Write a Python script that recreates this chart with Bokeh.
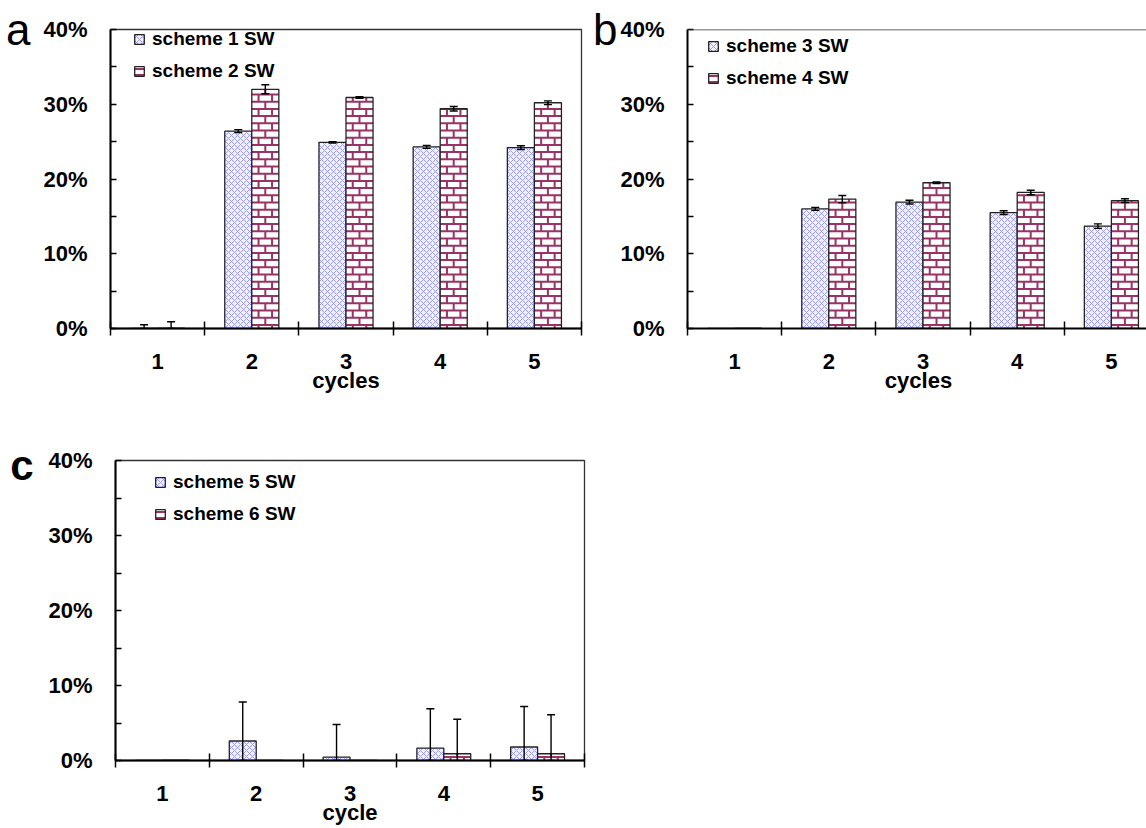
from bokeh.plotting import figure
from bokeh.models import (ColumnDataSource, FixedTicker, NumeralTickFormatter, Whisker, TeeHead,
                          Legend, LegendItem, Range1d, Span, LinearAxis, CustomJSTickFormatter)
from bokeh.layouts import column, row
from bokeh.embed import file_html
from bokeh.resources import INLINE

# ---------------- data ----------------
cycles = [1, 2, 3, 4, 5]
y_ticks = [0.0, 0.1, 0.2, 0.3, 0.4]

a_names = ["scheme 1 SW", "scheme 2 SW"]
a_s1 = [0.0, 0.264, 0.249, 0.243, 0.242]
a_s1_err = [0.005, 0.002, 0.001, 0.002, 0.0025]
a_s2 = [0.0, 0.320, 0.309, 0.294, 0.302]
a_s2_err = [0.009, 0.006, 0.001, 0.003, 0.0025]

b_names = ["scheme 3 SW", "scheme 4 SW"]
b_s3 = [0.0, 0.160, 0.169, 0.155, 0.137]
b_s3_err = [0.0, 0.002, 0.0025, 0.0025, 0.003]
b_s4 = [0.0, 0.173, 0.195, 0.182, 0.171]
b_s4_err = [0.0, 0.005, 0.001, 0.003, 0.0025]

c_names = ["scheme 5 SW", "scheme 6 SW"]
c_s5 = [0.0, 0.026, 0.0045, 0.0165, 0.018]
c_s5_err = [0.0, 0.052, 0.0435, 0.0525, 0.054]
c_s6 = [0.0, 0.0, 0.0, 0.009, 0.009]
c_s6_err = [0.0, 0.0, 0.0, 0.046, 0.052]

# ---------------- style ----------------
FONT = "Liberation Sans"
BAR_W = 0.287
PX_PER_CAT = 471 / 5
PX_PER_UNIT_Y = 299 / 0.4
BRICK_H = 7.2 / PX_PER_UNIT_Y      # brick row height (data units)
BRICK_W = 13.5 / PX_PER_CAT        # brick length (data units)
BRICK_COLOR = "#993366"
EDGE = "#222222"


def brick_lines(xcenters, tops):
    """Mortar lines of a brick fill, clipped to each bar."""
    x0, y0, x1, y1 = [], [], [], []
    eps = 1.5 / PX_PER_CAT
    for xc, top in zip(xcenters, tops):
        if top <= 0:
            continue
        left, right = xc - BAR_W / 2, xc + BAR_W / 2
        bounds = [0.0]
        yv = BRICK_H / 2
        while yv < top:
            bounds.append(yv)
            yv += BRICK_H
        bounds.append(top)
        for r in range(len(bounds) - 1):
            ylo, yhi = bounds[r], bounds[r + 1]
            if 0 < r:
                x0.append(left); x1.append(right); y0.append(ylo); y1.append(ylo)
            off = BRICK_W / 2 if r % 2 == 0 else 0.0
            j = 0
            while left + off + j * BRICK_W < right - eps:
                xv = left + off + j * BRICK_W
                if xv > left + eps:
                    x0.append(xv); x1.append(xv); y0.append(ylo); y1.append(yhi)
                j += 1
    return dict(x0=x0, y0=y0, x1=x1, y1=y1)


def make_panel(vals1, err1, vals2, err2, names, letter, letter_bold, letter_standoff,
               letter_dy_px, xlabel, frame_w, frame_h, x_end, borders, legend_loc,
               outline=True):
    left, right, top, bottom = borders
    p = figure(frame_width=frame_w, frame_height=frame_h, output_backend="svg",
               toolbar_location=None, x_range=Range1d(0.5, x_end), y_range=Range1d(0, 0.4),
               min_border_left=left, min_border_right=right, min_border_top=top,
               min_border_bottom=bottom, background_fill_color="white",
               border_fill_color="white")
    p.xgrid.visible = False
    p.ygrid.visible = False
    if outline:
        p.outline_line_color = "#333333"
        p.outline_line_width = 1.3
    else:
        p.outline_line_color = None
        p.add_layout(Span(location=y_ticks[-1], dimension="width", line_color="#333333",
                          line_width=1.3))

    x1 = [c - BAR_W / 2 for c in cycles]
    x2 = [c + BAR_W / 2 for c in cycles]
    r1 = p.vbar(x=x1, top=vals1, width=BAR_W, fill_color="#f2f2ff", line_color=EDGE,
                line_width=1.3, hatch_pattern="diagonal_cross", hatch_color="#9a9aff",
                hatch_scale=6, hatch_weight=1)
    # brick-filled bars: white body, mortar lines, then the outline on top
    p.vbar(x=x2, top=vals2, width=BAR_W, fill_color="white", line_color=None)
    p.segment(source=ColumnDataSource(brick_lines(x2, vals2)), x0="x0", y0="y0",
              x1="x1", y1="y1", line_color=BRICK_COLOR, line_width=2)
    p.vbar(x=x2, top=vals2, width=BAR_W, fill_color=None, line_color=EDGE, line_width=1.3)
    # legend swatch for the brick series (zero-height bar, hidden under the axis)
    r2 = p.vbar(x=x2[:1], top=[0.0], width=BAR_W, fill_color="white", line_color=EDGE,
                line_width=1.3, hatch_pattern="horizontal_line", hatch_color=BRICK_COLOR,
                hatch_scale=6, hatch_weight=2)

    for xs, vs, es in ((x1, vals1, err1), (x2, vals2, err2)):
        keep = [i for i in range(len(xs)) if es[i] > 0]
        src = ColumnDataSource(dict(
            x=[xs[i] for i in keep],
            upper=[vs[i] + es[i] for i in keep],
            lower=[max(vs[i] - es[i], 0.0) for i in keep]))
        w = Whisker(source=src, base="x", upper="upper", lower="lower", dimension="height",
                    line_color="black", line_width=1.4, level="overlay",
                    upper_head=TeeHead(size=8, line_color="black", line_width=1.4),
                    lower_head=TeeHead(size=8, line_color="black", line_width=1.4))
        p.add_layout(w)

    # axes
    xa = p.xaxis[0]
    xa.ticker = FixedTicker(ticks=cycles,
                            minor_ticks=[c - 0.5 for c in cycles] + [cycles[-1] + 0.5])
    xa.axis_line_width = 2
    xa.axis_line_color = "black"
    xa.major_tick_in = 0
    xa.major_tick_out = 0
    xa.minor_tick_in = 7
    xa.minor_tick_out = 7
    xa.minor_tick_line_width = 1.5
    xa.minor_tick_line_color = "black"
    xa.major_label_standoff = 18
    xa.major_label_text_font = FONT
    xa.major_label_text_font_size = "22px"
    xa.major_label_text_font_style = "bold"
    xa.major_label_text_color = "black"
    xa.axis_label = xlabel
    xa.axis_label_standoff = -4
    xa.axis_label_text_font = FONT
    xa.axis_label_text_font_size = "22px"
    xa.axis_label_text_font_style = "bold"
    xa.axis_label_text_color = "black"

    ya = p.yaxis[0]
    ya.ticker = FixedTicker(ticks=y_ticks,
                            minor_ticks=[(a + b) / 2 for a, b in zip(y_ticks[:-1], y_ticks[1:])])
    ya.formatter = NumeralTickFormatter(format="0%")
    ya.axis_line_width = 2
    ya.axis_line_color = "black"
    ya.major_tick_in = 6
    ya.major_tick_out = 0
    ya.minor_tick_in = 6
    ya.minor_tick_out = 0
    ya.major_tick_line_width = 1.5
    ya.minor_tick_line_width = 1.5
    ya.major_label_standoff = 23
    ya.major_label_text_font = FONT
    ya.major_label_text_font_size = "22px"
    ya.major_label_text_font_style = "bold"
    ya.major_label_text_color = "black"

    # panel letter as an outer, line-less axis with a single labelled tick
    letter_axis = LinearAxis(
        ticker=FixedTicker(ticks=[y_ticks[-1] - letter_dy_px / PX_PER_UNIT_Y], minor_ticks=[]),
        formatter=CustomJSTickFormatter(code="return '%s'" % letter),
        axis_line_color=None, major_tick_line_color=None, minor_tick_line_color=None,
        major_tick_in=0, major_tick_out=0, minor_tick_in=0, minor_tick_out=0,
        major_label_standoff=letter_standoff, major_label_text_font=FONT,
        major_label_text_font_size="42px" if letter_bold else "44px",
        major_label_text_font_style="bold" if letter_bold else "normal",
        major_label_text_color="black")
    p.add_layout(letter_axis, "left")

    legend = Legend(items=[LegendItem(label=names[0], renderers=[r1]),
                           LegendItem(label=names[1], renderers=[r2])],
                    location=legend_loc, orientation="vertical", padding=0, margin=0,
                    spacing=8, glyph_width=12, glyph_height=12, label_height=24,
                    label_standoff=7, border_line_color=None, background_fill_alpha=0,
                    label_text_font=FONT, label_text_font_size="19px",
                    label_text_font_style="bold", label_text_color="black")
    p.add_layout(legend)
    return p


pa = make_panel(a_s1, a_s1_err, a_s2, a_s2_err, a_names, "a", False, 10, 0, "cycles",
                471, 299, 5.5, (110, 9, 29, 92), (23, 245))
pb = make_panel(b_s3, b_s3_err, b_s4, b_s4_err, b_names, "b", False, 0, 0, "cycles",
                462, 299, 0.5 + 462 / PX_PER_CAT, (94, 0, 29, 92), (20, 238), outline=False)
pc = make_panel(c_s5, c_s5_err, c_s6, c_s6_err, c_names, "c", True, 12, 5, "cycle",
                469, 300, 5.5, (115, 10, 40, 68), (39, 234))

layout = column(row(pa, pb), pc)
open("out.html", "w").write(file_html(layout, INLINE))
